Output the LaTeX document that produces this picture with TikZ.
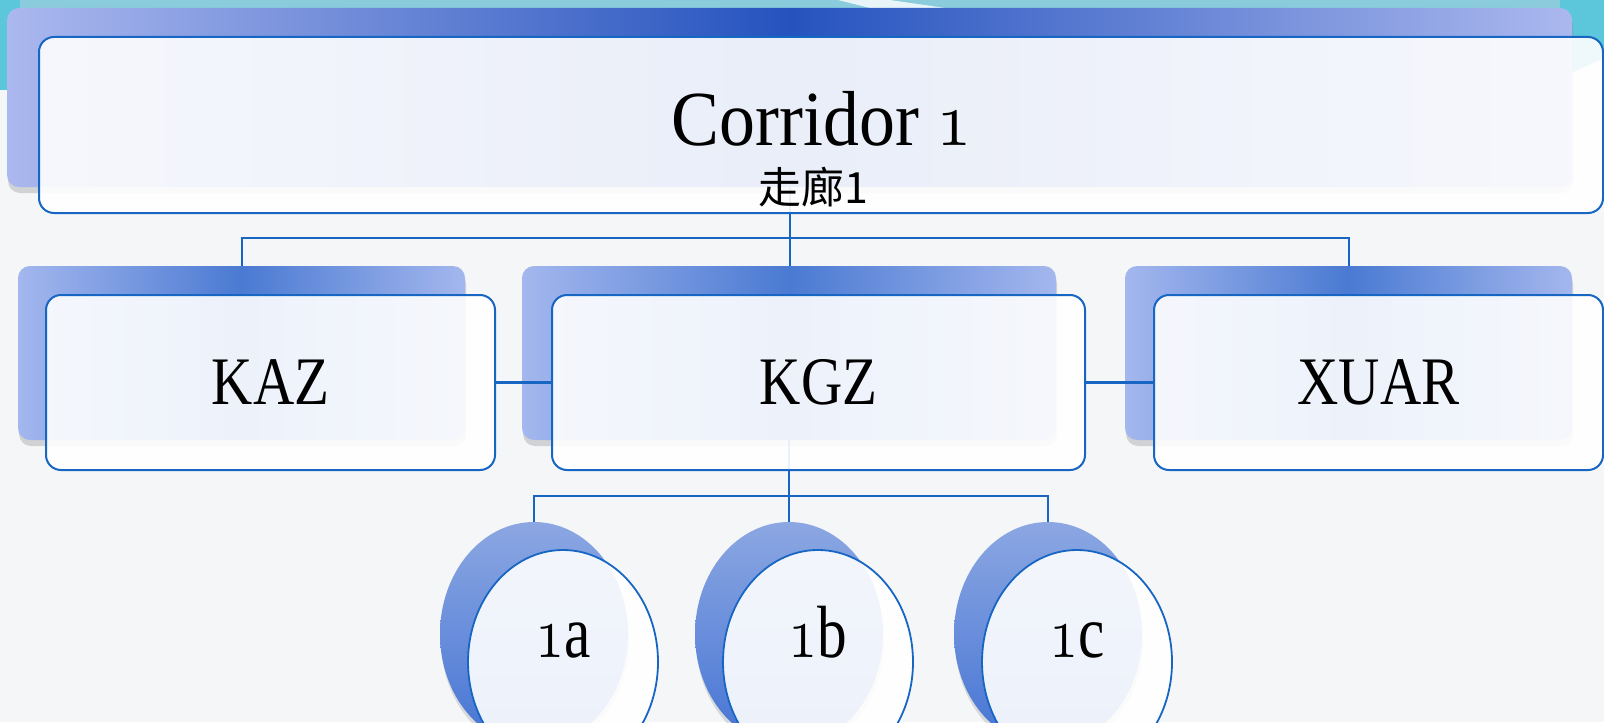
\documentclass[tikz,border=0pt]{standalone}
\usepackage{fontspec}
\usepackage{graphicx}
\setmainfont{Liberation Serif}
\newfontfamily\cjkfont{Noto Sans CJK SC}
\newcommand{\osone}[1]{\scalebox{#1}{\fontsize{24.88}{26}\usefont{OML}{cmm}{m}{it}1}}
\usetikzlibrary{shadows,shapes.geometric}
\definecolor{linec}{HTML}{1766C4}
\definecolor{backdark}{HTML}{2553BE}
\definecolor{backlight}{HTML}{ABB8EE}
\definecolor{backmid}{HTML}{4A7AD2}
\definecolor{backedge}{HTML}{A4B7EE}
\definecolor{circtop}{HTML}{8CA7E2}
\definecolor{circbot}{HTML}{4574D4}
\definecolor{bgc}{HTML}{F5F6F8}
\definecolor{teal1}{HTML}{8ACCDC}
\definecolor{cyan1}{HTML}{5CC6DA}
\tikzset{
  topbackbox/.style={rectangle, rounded corners=6pt, draw=none, inner sep=0pt,
    left color=backlight, right color=backlight, middle color=backdark,
    drop shadow={shadow xshift=0.5pt, shadow yshift=-3pt, opacity=0.3}},
  backbox/.style={rectangle, rounded corners=6pt, draw=none, inner sep=0pt,
    left color=backedge, right color=backedge, middle color=backmid,
    drop shadow={shadow xshift=0.5pt, shadow yshift=-3pt, opacity=0.3}},
  frontbox/.style={rectangle, rounded corners=7.5pt, draw=linec, line width=1pt,
    fill=white, fill opacity=0.9, text opacity=1, inner sep=0pt,
    font=\fontsize{34}{36}\selectfont},
  circback/.style={ellipse, draw=none, inner sep=0pt, minimum width=94pt, minimum height=112pt,
    top color=circtop, bottom color=circbot,
    drop shadow={shadow xshift=0.5pt, shadow yshift=-3pt, opacity=0.25}},
  circfront/.style={ellipse, draw=linec, line width=0.9pt, fill=white, fill opacity=0.9,
    text opacity=1, inner sep=0pt, minimum width=95pt, minimum height=112pt},
  circtext/.style={anchor=base, inner sep=0pt, font=\fontsize{37}{39}\selectfont},
  conn/.style={draw=linec, line width=1pt},
  sideconn/.style={draw=linec, line width=1.6pt},
}
\begin{document}
\begin{tikzpicture}[x=0.5pt, y=-0.5pt]
\clip (0,0) rectangle (1604,722);
% background
\fill[bgc] (0,0) rectangle (1604,722);
\fill[teal1] (0,0) rectangle (1604,30);
\fill[cyan1] (0,0) rectangle (20,90);
\fill[cyan1] (1560,0) -- (1604,0) -- (1604,58) -- (1560,78) -- cycle;
\fill[white, opacity=0.8] (838,0) -- (890,0) -- (945,8) -- (870,8) -- cycle;

% back shapes
\node[topbackbox, minimum width=782.5pt, minimum height=89.5pt] (topback) at (789.5,97.5) {};
\node[backbox, minimum width=223.5pt, minimum height=87pt] (kazback) at (241.5,353) {};
\node[backbox, minimum width=267pt, minimum height=87pt] (kgzback) at (789,353) {};
\node[backbox, minimum width=223.5pt, minimum height=87pt] (xuarback) at (1348.5,353) {};
\node[circback] (c1back) at (534,634) {};
\node[circback] (c2back) at (789,634) {};
\node[circback] (c3back) at (1048,634) {};

% tree connectors
\coordinate (busa) at (0,238);
\coordinate (busb) at (0,496);
\draw[conn] (topback.south) -- (topback.south |- kgzback.north);
\draw[conn] (kazback.north) -- (kazback.north |- busa) -- (xuarback.north |- busa) -- (xuarback.north);
\draw[conn] (kgzback.south) -- (kgzback.south |- busb);
\draw[conn] (c1back.north) -- (c1back.north |- busb) -- (c3back.north |- busb) -- (c3back.north);
\draw[conn] (c2back.north) -- (c2back.north |- busb);

% front shapes
\node[frontbox, minimum width=782pt, minimum height=88pt] (topfront) at (821,125) {};
\node[anchor=base, inner sep=0pt, font=\fontsize{39}{41}\selectfont] (corr) at (822,145)
  {\scalebox{0.92}[1]{Corridor \osone{1.57}}};
\node[anchor=base, inner sep=0pt, font=\cjkfont\fontsize{21.5}{24}\selectfont] (corrzh) at (813,203) {走廊1};

\node[frontbox, minimum width=224.5pt, minimum height=87.5pt] (kazfront) at (270.5,382.5) {\scalebox{0.84}[1]{KAZ}};
\node[frontbox, minimum width=266.5pt, minimum height=87.5pt] (kgzfront) at (818.5,382.5) {\scalebox{0.84}[1]{KGZ}};
\node[frontbox, minimum width=224.5pt, minimum height=87.5pt] (xuarfront) at (1378.5,382.5) {\scalebox{0.84}[1]{XUAR}};

\draw[sideconn] (kazfront.east) -- (kgzfront.west);
\draw[sideconn] (kgzfront.east) -- (xuarfront.west);

\node[circfront] (c1front) at (563,662) {};
\node[circfront] (c2front) at (818,662) {};
\node[circfront] (c3front) at (1077,662) {};
\node[circtext] (l1) at (563,657) {\scalebox{0.8}[1]{\osone{1.49}a}};
\node[circtext] (l2) at (818,657) {\scalebox{0.8}[1]{\osone{1.49}b}};
\node[circtext] (l3) at (1077,657) {\scalebox{0.8}[1]{\osone{1.49}c}};
\end{tikzpicture}
\end{document}
